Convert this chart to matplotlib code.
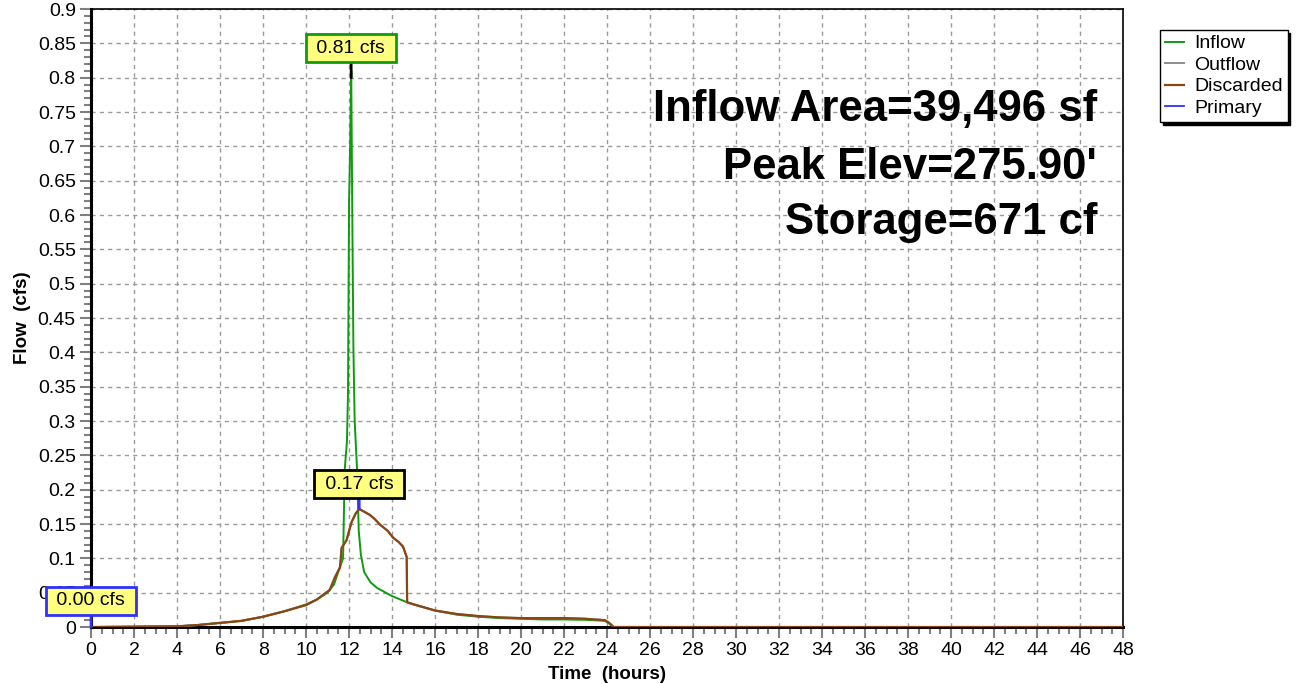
import matplotlib
matplotlib.use("Agg")
import matplotlib.pyplot as plt
from matplotlib.ticker import MultipleLocator, FuncFormatter

plt.rcParams['font.family'] = ['Liberation Sans', 'DejaVu Sans']

# hydrograph values (hours, cfs)
inflow_t = [0, 4.0, 5.0, 6.0, 7.0, 8.0, 9.0, 10.0, 10.5, 11.0, 11.3, 11.55, 11.72, 11.8,
            11.9, 11.95, 12.0, 12.05, 12.1, 12.15, 12.2, 12.26, 12.37, 12.45, 12.55, 12.7,
            13.0, 13.3, 14.0, 14.7, 15.0, 16.0, 17.0, 18.0, 19.0, 20.0, 21.0, 22.0, 23.0,
            23.9, 24.1, 24.3, 48]
inflow_v = [0, 0.001, 0.003, 0.006, 0.009, 0.015, 0.023, 0.033, 0.040, 0.050, 0.062, 0.085,
            0.10, 0.23, 0.27, 0.34, 0.62, 0.70, 0.81, 0.60, 0.41, 0.30, 0.23, 0.14, 0.105,
            0.08, 0.065, 0.057, 0.045, 0.036, 0.033, 0.024, 0.018, 0.015, 0.013, 0.012,
            0.011, 0.011, 0.0105, 0.009, 0.005, 0.0, 0.0]

disc_t = [0, 4.0, 5.0, 6.0, 7.0, 8.0, 9.0, 10.0, 10.5, 11.1, 11.35, 11.58, 11.65, 11.89,
          12.0, 12.12, 12.3, 12.47, 12.7, 12.98, 13.2, 13.44, 13.8, 14.05, 14.3, 14.51,
          14.68, 14.7, 15.0, 16.0, 17.0, 18.0, 19.0, 20.0, 21.0, 22.0, 23.0, 23.9, 24.1,
          24.3, 48]
disc_v = [0, 0.001, 0.003, 0.006, 0.009, 0.015, 0.023, 0.032, 0.040, 0.054, 0.073, 0.087,
          0.115, 0.127, 0.14, 0.153, 0.165, 0.172, 0.168, 0.163, 0.157, 0.149, 0.14, 0.13,
          0.124, 0.117, 0.102, 0.036, 0.033, 0.024, 0.019, 0.016, 0.014, 0.013, 0.013,
          0.013, 0.012, 0.010, 0.006, 0.0, 0.0]

primary_t = [0, 48]
primary_v = [0, 0]

info_lines = ["Inflow Area=39,496 sf", "Peak Elev=275.90'", "Storage=671 cf"]

GREEN = '#109a10'
GREY = '#8c8c8c'
BROWN = '#8b4513'
BLUE = '#3030ff'

fig = plt.figure(figsize=(12.99, 6.84), dpi=100)
ax = fig.add_axes([0.0701, 0.0833, 0.7945, 0.9035])

ax.plot(primary_t, primary_v, color=BLUE, lw=1.3, label='Primary', zorder=1)
ax.plot(inflow_t, inflow_v, color=GREEN, lw=1.4, label='Inflow', zorder=3)
ax.plot(disc_t, disc_v, color=GREY, lw=1.4, label='Outflow', zorder=3)
ax.plot(disc_t, disc_v, color=BROWN, lw=1.6, label='Discarded', zorder=4)

ax.set_xlim(0, 48)
ax.set_ylim(0, 0.9)
ax.xaxis.set_major_locator(MultipleLocator(2))
ax.xaxis.set_minor_locator(MultipleLocator(0.5))
ax.yaxis.set_major_locator(MultipleLocator(0.05))
ax.yaxis.set_minor_locator(MultipleLocator(0.01))
ax.yaxis.set_major_formatter(FuncFormatter(lambda v, p: '%g' % round(v, 2)))

ax.tick_params(which='major', length=8, width=1.5, color='#808080', labelsize=14, pad=3)
ax.tick_params(which='minor', length=5, width=1.5, color='#808080')
ax.grid(which='major', linestyle=(0, (3, 3)), color='#9a9a9a', lw=1)
for s in ax.spines.values():
    s.set_color('black')
    s.set_linewidth(1.2)
ax.spines['left'].set_linewidth(2.2)
ax.spines['bottom'].set_linewidth(2.2)

ax.set_xlabel('Time  (hours)', fontsize=13.5, fontweight='bold', labelpad=5)
ax.set_ylabel('Flow  (cfs)', fontsize=13.5, fontweight='bold', labelpad=5)

# peak labels
box = 'square,pad=0.28'
ax.annotate(' 0.81 cfs ', xy=(12.1, 0.80), xytext=(12.09, 0.843), ha='center', va='center',
            fontsize=14, zorder=10,
            bbox=dict(boxstyle=box, fc='#ffff80', ec=GREEN, lw=2),
            arrowprops=dict(arrowstyle='-', color='black', lw=2, shrinkA=0, shrinkB=0))
ax.annotate(' 0.17 cfs ', xy=(12.47, 0.172), xytext=(12.47, 0.208), ha='center', va='center',
            fontsize=14, zorder=10,
            bbox=dict(boxstyle=box, fc='#ffff80', ec='black', lw=2),
            arrowprops=dict(arrowstyle='-', color=BLUE, lw=2, shrinkA=0, shrinkB=0))
ax.annotate(' 0.00 cfs ', xy=(0, 0), xytext=(0, 0.038), ha='center', va='center',
            fontsize=14, zorder=10, annotation_clip=False,
            bbox=dict(boxstyle=box, fc='#ffff80', ec=BLUE, lw=2),
            arrowprops=dict(arrowstyle='-', color=BLUE, lw=2, shrinkA=0, shrinkB=0))

for frac, line in zip([0.837, 0.743, 0.655], info_lines):
    ax.text(0.975, frac, line, transform=ax.transAxes, ha='right', va='center',
            fontsize=31.5, fontweight='bold', zorder=6)

h, l = ax.get_legend_handles_labels()
order = [l.index(n) for n in ['Inflow', 'Outflow', 'Discarded', 'Primary']]
fig.legend([h[i] for i in order], [l[i] for i in order], loc='upper left',
           bbox_to_anchor=(1160 / 1299, 1 - 30 / 684), fontsize=14, fancybox=False,
           edgecolor='black', framealpha=1, borderaxespad=0, borderpad=0.25,
           labelspacing=0.2, handlelength=1.0, handletextpad=0.5,
           shadow={'color': 'black', 'alpha': 1})

fig.savefig('out.png', dpi=100)
